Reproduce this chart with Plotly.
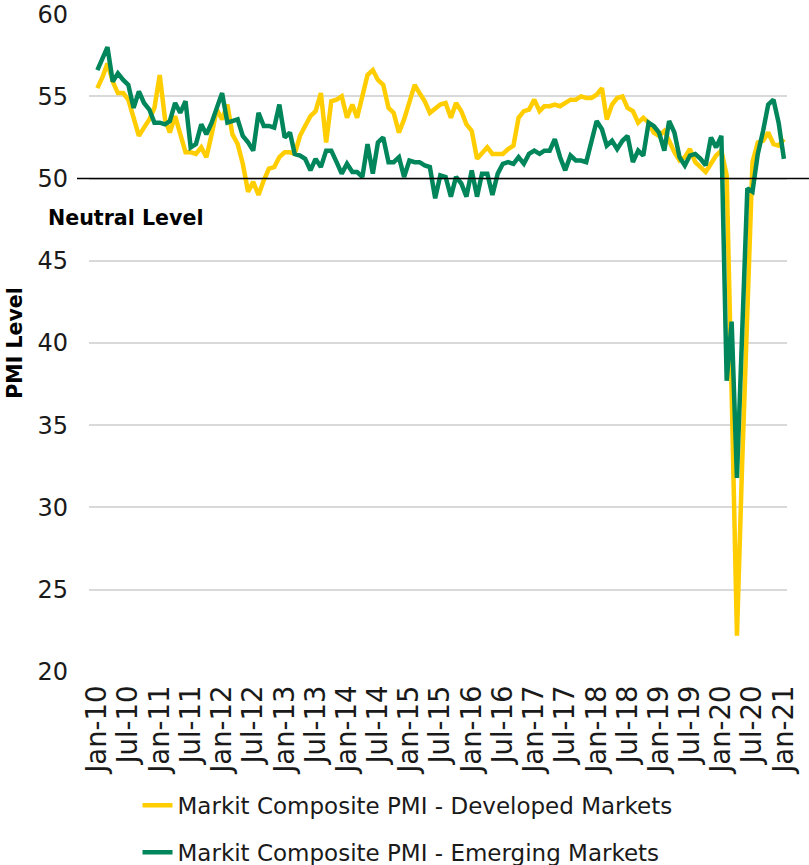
import pandas as pd
import plotly.graph_objects as go

months = pd.date_range("2010-01-01", periods=133, freq="MS")

dm_pmi = [
    55.5, 56.2, 57.0, 55.9, 55.2, 55.2, 54.8, 53.8, 52.6, 53.1, 53.6, 54.3,
    56.3, 53.6, 52.8, 53.8, 52.7, 51.6, 51.6, 51.5, 51.9, 51.3, 52.7, 54.2,
    53.6, 54.5, 52.7, 52.1, 50.9, 49.2, 49.8, 49.0, 49.9, 50.6, 50.7, 51.3,
    51.6, 51.6, 51.5, 52.6, 53.2, 53.8, 54.1, 55.2, 52.2, 54.7, 54.8, 55.0,
    53.7, 54.5, 53.7, 55.0, 56.3, 56.6, 56.0, 55.7, 54.3, 54.0, 52.8, 53.6,
    54.6, 55.7, 55.2, 54.7, 54.0, 54.3, 54.5, 54.6, 53.7, 54.6, 54.1, 53.3,
    52.9, 51.2, 51.5, 51.9, 51.5, 51.5, 51.5, 51.8, 52.0, 53.7, 54.1, 54.2,
    54.8, 54.1, 54.4, 54.4, 54.5, 54.4, 54.6, 54.8, 54.8, 55.0, 54.9, 54.9,
    55.1, 55.5, 53.6, 54.5, 54.9, 55.0, 54.3, 54.1, 53.4, 53.7, 53.4, 52.8,
    52.6, 52.9, 52.3, 51.6, 51.1, 51.3, 51.8, 51.0, 50.7, 50.4, 50.9, 51.4,
    51.7, 50.2, 37.0, 22.2, 32.5, 42.5, 51.0, 52.2, 52.3, 52.8, 52.1, 52.0,
    52.4,
]

em_pmi = [
    56.6, 57.3, 58.0, 55.9, 56.4, 56.0, 55.7, 54.3, 55.3, 54.6, 54.2, 53.4,
    53.4, 53.3, 53.5, 54.6, 54.0, 54.7, 51.9, 52.1, 53.3, 52.7, 53.4, 54.3,
    55.2, 53.4, 53.5, 53.6, 52.6, 52.2, 51.7, 54.0, 53.2, 53.2, 53.1, 54.5,
    52.5, 52.8, 51.5, 51.4, 51.2, 50.5, 51.2, 50.7, 51.7, 51.7, 51.0, 50.3,
    50.9, 50.4, 50.4, 50.1, 52.1, 50.3, 52.2, 52.5, 51.0, 51.0, 51.3, 50.1,
    51.1, 51.0, 51.0, 50.8, 50.7, 48.8, 50.2, 50.1, 48.9, 50.1, 49.7, 48.9,
    50.5, 48.9, 50.3, 50.3, 49.0, 50.3, 50.9, 51.0, 50.9, 51.3, 50.9, 51.5,
    51.7, 51.5, 51.7, 51.7, 52.4, 51.3, 50.5, 51.4, 51.1, 51.1, 51.0, 52.3,
    53.5, 53.0, 52.0, 52.3, 51.8, 52.3, 52.6, 51.0, 51.7, 51.4, 53.4, 53.2,
    52.8, 51.7, 53.5, 52.8, 51.3, 50.8, 51.4, 51.5, 51.2, 50.8, 52.5, 51.9,
    52.6, 37.7, 41.3, 31.8, 40.6, 49.4, 49.2, 51.5, 52.9, 54.5, 54.8, 53.4,
    51.2,
]

series_names = [
    "Markit Composite PMI - Developed Markets",
    "Markit Composite PMI - Emerging Markets",
]
y_ticks = [20, 25, 30, 35, 40, 45, 50, 55, 60]
neutral_level = 50

FONT = "'DejaVu Sans', sans-serif"
TEXT = "#1a1a1a"

fig = go.Figure()
fig.add_trace(go.Scatter(
    x=months, y=dm_pmi, mode="lines", name=series_names[0],
    line=dict(color="#FFCD00", width=4.5), legendgroup="dm",
))
fig.add_trace(go.Scatter(
    x=months, y=em_pmi, mode="lines", name=series_names[1],
    line=dict(color="#00865A", width=4.5), legendgroup="em",
))

fig.add_shape(
    type="line", xref="paper", yref="y",
    x0=-0.0172, x1=1.0315, y0=neutral_level, y1=neutral_level,
    line=dict(color="#000000", width=1.5),
)
fig.add_annotation(
    text="<b>Neutral Level</b>", xref="paper", yref="y",
    x=-0.062, y=47.6, xanchor="left", yanchor="middle",
    showarrow=False, font=dict(family=FONT, size=20.6, color="#000000"),
)

fig.update_layout(
    width=809, height=865,
    margin=dict(l=89, r=22, t=14, b=193, autoexpand=False),
    plot_bgcolor="white", paper_bgcolor="white",
    font=dict(family=FONT, size=22, color=TEXT),
    showlegend=True,
    legend=dict(
        x=0.0695, y=-0.170, xanchor="left", yanchor="top",
        orientation="v", traceorder="grouped", tracegroupgap=14,
        font=dict(family=FONT, size=23, color=TEXT),
        bgcolor="rgba(0,0,0,0)",
    ),
)

fig.update_xaxes(
    type="date", automargin=False,
    range=["2009-11-13", "2021-01-19"],
    tick0="2010-01-01", dtick="M6", tickformat="%b-%y",
    tickangle=-90, showgrid=False, zeroline=False, showline=False,
    ticks="", ticklabelstandoff=7,
    tickfont=dict(family=FONT, size=27.5, color=TEXT),
)
fig.update_yaxes(
    automargin=False,
    range=[19.99, 60.01], tickvals=y_ticks,
    showgrid=True, gridcolor="#d9d9d9", gridwidth=1.5,
    zeroline=False, showline=False, ticks="", ticklabelstandoff=20,
    tickfont=dict(family=FONT, size=24, color=TEXT),
    title=dict(text="<b>PMI Level</b>", standoff=9,
               font=dict(family=FONT, size=20.5, color="#000000")),
)

fig.write_html(
    "out.html",
    config={"displayModeBar": False},
    post_script="document.body.style.margin='0px';document.body.style.overflow='hidden';",
)
